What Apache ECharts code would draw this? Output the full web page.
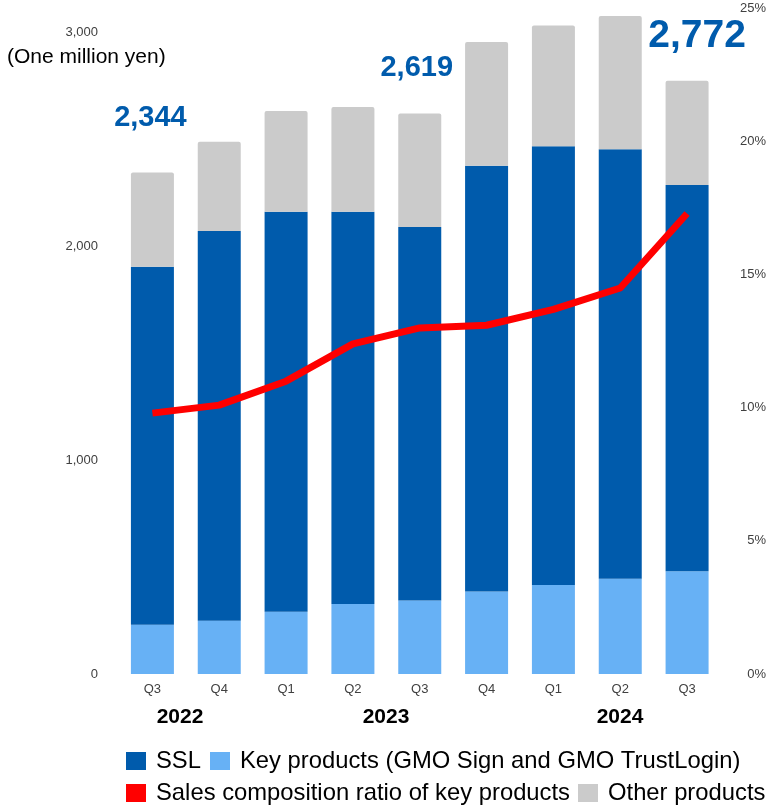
<!DOCTYPE html>
<html>
<head>
<meta charset="utf-8">
<script src="https://cdn.jsdelivr.net/npm/echarts@6/dist/echarts.min.js"></script>
<style>
  html, body { margin: 0; padding: 0; background: #ffffff; }
  #chart { width: 769px; height: 808px; }
</style>
</head>
<body>
<div id="chart"></div>
<script>
// Quarterly sales by product group (one million yen) and share of key products
const quarters = ['Q3', 'Q4', 'Q1', 'Q2', 'Q3', 'Q4', 'Q1', 'Q2', 'Q3'];
const keyProducts = [230, 249, 291, 327, 344, 386, 416, 445, 480];
const ssl = [1673, 1821, 1869, 1833, 1745, 1989, 2050, 2007, 1805];
const otherProducts = [441, 417, 471, 490, 530, 578, 565, 623, 487];
const keyRatio = [9.8, 10.1, 11.0, 12.4, 13.0, 13.1, 13.7, 14.5, 17.3];
const years = ['2022', '2023', '2024'];
const amountTicks = [0, 1000, 2000, 3000];

const FONT = '"Liberation Sans", Arial, sans-serif';
const C_SSL = '#005bac';
const C_KEY = '#67b1f5';
const C_OTHER = '#cbcbcb';
const C_RATIO = '#ff0000';

// Totals shown above selected bars: font size, horizontal shift, gap
const totalLabels = {
  0: { size: 29, dx: -2, gap: 40 },
  4: { size: 29, dx: -3, gap: 31 },
  8: { size: 39, dx: 10, gap: 25 }
};

function stackTotal(i) {
  return keyProducts[i] + ssl[i] + otherProducts[i];
}

const otherData = otherProducts.map((v, i) => {
  const t = totalLabels[i];
  if (!t) return v;
  return {
    value: v,
    label: {
      show: true,
      position: 'top',
      distance: t.gap,
      offset: [t.dx, 0],
      fontFamily: FONT,
      fontWeight: 'bold',
      fontSize: t.size,
      color: C_SSL,
      formatter: () => stackTotal(i).toLocaleString('en-US')
    }
  };
});

const chart = echarts.init(document.getElementById('chart'), null, { renderer: 'canvas' });

const legendText = { fontFamily: FONT, fontSize: 23.8, color: '#000000', padding: [0, 0, 0, 5] };

chart.setOption({
  animation: false,
  backgroundColor: '#ffffff',
  grid: { left: 119, right: 46.5, top: 8.5, bottom: 134, containLabel: false },
  legend: [
    {
      left: 126, top: 749, padding: 0, itemGap: 9, width: 760,
      itemWidth: 20, itemHeight: 18, icon: 'rect',
      data: ['SSL', 'Key products (GMO Sign and GMO TrustLogin)'],
      textStyle: legendText, selectedMode: false
    },
    {
      left: 126, top: 781, padding: 0, itemGap: 8, width: 760,
      itemWidth: 20, itemHeight: 18, icon: 'rect',
      data: ['Sales composition ratio of key products', 'Other products'],
      textStyle: legendText, selectedMode: false
    }
  ],
  xAxis: {
    type: 'category',
    data: quarters,
    axisLine: { show: false },
    axisTick: { show: false },
    axisLabel: { fontFamily: FONT, fontSize: 13, color: '#404040', margin: 9 }
  },
  yAxis: [
    {
      type: 'value',
      min: amountTicks[0],
      max: 3110,
      interval: amountTicks[1] - amountTicks[0],
      splitLine: { show: false },
      axisLine: { show: false },
      axisTick: { show: false },
      axisLabel: {
        showMaxLabel: false,
        margin: 21,
        fontFamily: FONT, fontSize: 13, color: '#404040',
        formatter: v => v.toLocaleString('en-US')
      }
    },
    {
      type: 'value',
      position: 'right',
      min: 0, max: 25, interval: 5,
      splitLine: { show: false },
      axisLine: { show: false },
      axisTick: { show: false },
      axisLabel: {
        align: 'right',
        margin: 45.5,
        fontFamily: FONT, fontSize: 13, color: '#404040',
        formatter: '{value}%'
      }
    }
  ],
  series: [
    {
      name: 'Key products (GMO Sign and GMO TrustLogin)',
      type: 'bar', stack: 'sales', barWidth: 43,
      itemStyle: { color: C_KEY },
      data: keyProducts
    },
    {
      name: 'SSL',
      type: 'bar', stack: 'sales', barWidth: 43,
      itemStyle: { color: C_SSL },
      data: ssl
    },
    {
      name: 'Other products',
      type: 'bar', stack: 'sales', barWidth: 43,
      itemStyle: { color: C_OTHER, borderRadius: [2, 2, 0, 0] },
      data: otherData
    },
    {
      name: 'Sales composition ratio of key products',
      type: 'line', yAxisIndex: 1,
      symbol: 'none', z: 5,
      itemStyle: { color: C_RATIO },
      lineStyle: { color: C_RATIO, width: 7 },
      data: keyRatio
    }
  ],
  graphic: [
    {
      type: 'text', left: 7, top: 47,
      style: { text: '(One million yen)', font: '21px ' + FONT, fill: '#000000' }
    },
    {
      type: 'text', x: 180, y: 717,
      style: { text: years[0], font: 'bold 21px ' + FONT, fill: '#000000', align: 'center', verticalAlign: 'middle' }
    },
    {
      type: 'text', x: 386, y: 717,
      style: { text: years[1], font: 'bold 21px ' + FONT, fill: '#000000', align: 'center', verticalAlign: 'middle' }
    },
    {
      type: 'text', x: 620, y: 717,
      style: { text: years[2], font: 'bold 21px ' + FONT, fill: '#000000', align: 'center', verticalAlign: 'middle' }
    }
  ]
});
</script>
</body>
</html>
